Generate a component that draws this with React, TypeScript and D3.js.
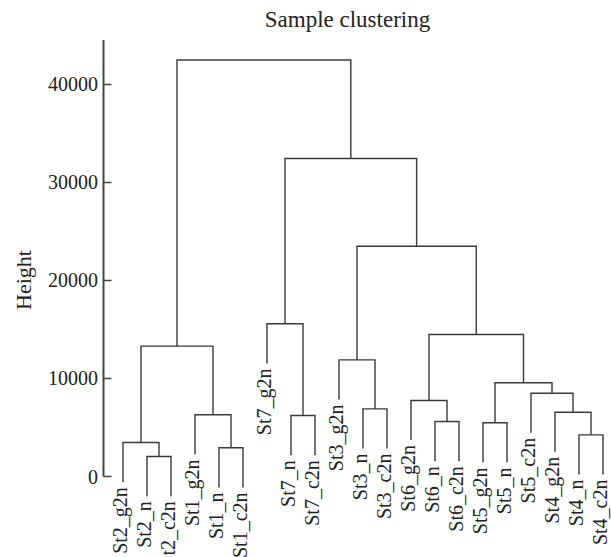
import React from "react";
import * as d3 from "d3";

const leaves = [
  "St2_g2n", "St2_n", "St2_c2n", "St1_g2n", "St1_n", "St1_c2n",
  "St7_g2n", "St7_n", "St7_c2n", "St3_g2n", "St3_n", "St3_c2n",
  "St6_g2n", "St6_n", "St6_c2n", "St5_g2n", "St5_n", "St5_c2n",
  "St4_g2n", "St4_n", "St4_c2n",
];

// R hclust style merge matrix: negative = leaf (1-based), positive = earlier merge (1-based)
const mergeLeft = [-2, -1, -5, -4, 2, -8, -7, -11, -10, -14, -13, -16, -20, -19, -18, 12, 11, 9, 7, 5];
const mergeRight = [-3, 1, -6, 3, 4, -9, 6, -12, 8, -15, 10, -17, -21, 13, 14, 15, 16, 17, 18, 19];
const mergeHeight = [
  2040, 3470, 2930, 6300, 13300, 6220, 15580, 6900, 11900, 5610,
  7760, 5480, 4250, 6560, 8500, 9560, 14490, 23500, 32450, 42500,
];

const yTicks = [0, 10000, 20000, 30000, 40000];
const title = "Sample clustering";
const yLabel = "Height";

const W = 611;
const H = 557;
const FONT = "'Liberation Serif', 'Times New Roman', serif";
const STROKE = "#3a3a3a";

export default function App() {
  const x = d3.scalePoint<string>().domain(leaves).range([123, 603]);
  const y = d3.scaleLinear().domain([0, 44540]).range([476.5, 40]);
  const hang = 0.1 * ((d3.max(mergeHeight) as number) - (d3.min(mergeHeight) as number));

  const mergeX: number[] = [];
  const xOf = (ref: number): number => {
    if (ref < 0) return x(leaves[-ref - 1]) as number;
    return mergeX[ref - 1];
  };
  mergeHeight.forEach((_, i) => {
    mergeX[i] = (xOf(mergeLeft[i]) + xOf(mergeRight[i])) / 2;
  });

  const paths: string[] = [];
  const leafLabels: { name: string; x: number; y: number }[] = [];
  mergeHeight.forEach((h, i) => {
    const a = mergeLeft[i];
    const b = mergeRight[i];
    const topOf = (ref: number) => (ref < 0 ? h - hang : mergeHeight[ref - 1]);
    const p = d3.path();
    p.moveTo(xOf(a), y(topOf(a)));
    p.lineTo(xOf(a), y(h));
    p.lineTo(xOf(b), y(h));
    p.lineTo(xOf(b), y(topOf(b)));
    paths.push(p.toString());
    [a, b].forEach((r) => {
      if (r < 0) leafLabels.push({ name: leaves[-r - 1], x: xOf(r), y: y(h - hang) });
    });
  });

  const axisX = 103.5;

  return (
    <svg
      width={W}
      height={H}
      style={{ position: "absolute", left: 0, top: 0, background: "#fff" }}
      fontFamily={FONT}
    >
      <rect width={W} height={H} fill="#fff" />
      <text x={347.5} y={27} textAnchor="middle" fontSize={23} fill="#222">
        {title}
      </text>
      <text
        transform={`translate(31,280) rotate(-90)`}
        textAnchor="middle"
        fontSize={22}
        fill="#222"
      >
        {yLabel}
      </text>
      <line
        x1={axisX}
        x2={axisX}
        y1={y(y.domain()[1])}
        y2={y(0)}
        stroke="#444"
        strokeWidth={2}
      />
      {yTicks.map((t) => (
        <g key={t}>
          <line x1={axisX} x2={axisX + 8} y1={y(t)} y2={y(t)} stroke="#444" strokeWidth={1.5} />
          <text x={98} y={y(t)} dy="0.35em" textAnchor="end" fontSize={20} fill="#222">
            {t}
          </text>
        </g>
      ))}
      {paths.map((d, i) => (
        <path key={i} d={d} fill="none" stroke={STROKE} strokeWidth={1.4} />
      ))}
      {leafLabels.map((l) => (
        <text
          key={l.name}
          transform={`translate(${l.x},${l.y + 5}) rotate(-90)`}
          dy="0.18em"
          textAnchor="end"
          fontSize={20}
          fill="#222"
        >
          {l.name}
        </text>
      ))}
    </svg>
  );
}
